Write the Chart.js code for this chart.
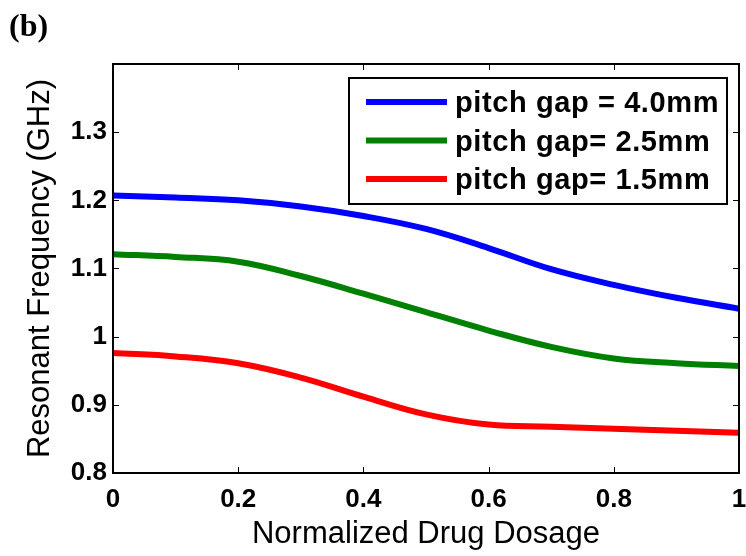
<!DOCTYPE html>
<html>
<head>
<meta charset="utf-8">
<script src="https://cdn.jsdelivr.net/npm/chart.js@4.4.1/dist/chart.umd.min.js"></script>
<style>
  html, body { margin: 0; padding: 0; background: #fff; }
  #wrap { width: 746px; height: 556px; }
</style>
</head>
<body>
<div id="wrap"><canvas id="c" width="746" height="556"></canvas></div>
<script>
// ---- data ----
const dosage = [0, 0.1, 0.2, 0.3, 0.4, 0.5, 0.6, 0.7, 0.8, 0.9, 1.0];
const gap40 = [1.207, 1.204, 1.200, 1.191, 1.177, 1.158, 1.130, 1.099, 1.076, 1.057, 1.041];
const gap25 = [1.121, 1.117, 1.110, 1.089, 1.063, 1.036, 1.009, 0.985, 0.968, 0.961, 0.957];
const gap15 = [0.976, 0.971, 0.961, 0.940, 0.912, 0.886, 0.871, 0.868, 0.865, 0.862, 0.859];
const seriesLabels = ['pitch gap = 4.0mm', 'pitch gap= 2.5mm', 'pitch gap= 1.5mm'];
const seriesColors = ['#0000ff', '#008000', '#ff0000'];
const xTicks = [0, 0.2, 0.4, 0.6, 0.8, 1];
const yTicks = [0.8, 0.9, 1.0, 1.1, 1.2, 1.3];
const panelLabel = '(b)';
const xTitle = 'Normalized Drug Dosage';
const yTitle = 'Resonant Frequency (GHz)';

const SANS = "'Liberation Sans', Arial, sans-serif";

function pts(ys) { return dosage.map((d, i) => ({ x: d, y: ys[i] })); }

const datasets = [gap40, gap25, gap15].map((ys, i) => ({
  label: seriesLabels[i],
  data: pts(ys),
  borderColor: seriesColors[i],
  backgroundColor: seriesColors[i],
  borderWidth: 6,
  pointRadius: 0,
  tension: 0.4,
  fill: false
}));

const framePlugin = {
  id: 'framePlugin',
  afterDraw(chart) {
    const { ctx, chartArea: a, scales } = chart;
    const x = scales.x, y = scales.y;
    ctx.save();
    // inner tick marks on all four sides
    ctx.strokeStyle = '#000';
    ctx.lineWidth = 1;
    ctx.beginPath();
    xTicks.forEach(v => {
      const px = Math.round(x.getPixelForValue(v)) + 0.5;
      ctx.moveTo(px, a.bottom); ctx.lineTo(px, a.bottom - 6);
      ctx.moveTo(px, a.top); ctx.lineTo(px, a.top + 6);
    });
    yTicks.forEach(v => {
      const py = Math.round(y.getPixelForValue(v)) + 0.5;
      ctx.moveTo(a.left, py); ctx.lineTo(a.left + 6, py);
      ctx.moveTo(a.right, py); ctx.lineTo(a.right - 6, py);
    });
    ctx.stroke();
    // axes box
    ctx.lineWidth = 2;
    ctx.strokeRect(a.left, a.top, a.right - a.left, a.bottom - a.top);

    // legend box inside the plot (top-right)
    const bw = 378, bh = 126;
    const bx = a.right - 12 - bw, by = a.top + 14;
    ctx.fillStyle = '#fff';
    ctx.fillRect(bx, by, bw, bh);
    ctx.lineWidth = 2;
    ctx.strokeStyle = '#000';
    ctx.strokeRect(bx, by, bw, bh);
    ctx.font = 'bold 29px ' + SANS;
    try { ctx.letterSpacing = '0.6px'; } catch (e) {}
    ctx.textBaseline = 'middle';
    ctx.textAlign = 'left';
    chart.data.datasets.forEach((ds, i) => {
      const ry = by + 24 + i * 38.5;
      ctx.strokeStyle = ds.borderColor;
      ctx.lineWidth = 6;
      ctx.beginPath();
      ctx.moveTo(bx + 17, ry);
      ctx.lineTo(bx + 98, ry);
      ctx.stroke();
      ctx.fillStyle = '#000';
      ctx.fillText(ds.label, bx + 106, ry + 2);
    });
    try { ctx.letterSpacing = '0px'; } catch (e) {}
    // panel label
    ctx.font = "bold 32px 'Liberation Serif', 'Times New Roman', serif";
    ctx.fillStyle = '#000';
    ctx.textBaseline = 'alphabetic';
    ctx.fillText(panelLabel, 9, 36);
    ctx.restore();
  }
};

function fmt(v) { return String(Number(v.toFixed(1))); }

new Chart(document.getElementById('c'), {
  type: 'line',
  data: { datasets },
  options: {
    responsive: false,
    animation: false,
    devicePixelRatio: 1,
    layout: { padding: { top: 64, right: 7, bottom: 0, left: 0 } },
    plugins: { legend: { display: false }, tooltip: { enabled: false } },
    scales: {
      x: {
        type: 'linear',
        min: 0, max: 1,
        afterBuildTicks(s) { s.ticks = xTicks.map(v => ({ value: v })); },
        afterFit(s) { s.height = 83; s.paddingLeft = 0; s.paddingRight = 0; },
        grid: { display: false, drawTicks: false },
        border: { display: false },
        ticks: {
          padding: 11,
          color: '#000',
          font: { family: SANS, size: 26, weight: 'bold' },
          maxRotation: 0,
          callback: v => fmt(v)
        },
        title: {
          display: true,
          text: xTitle,
          color: '#000',
          font: { family: SANS, size: 31 },
          padding: { top: 0, bottom: 3 }
        }
      },
      y: {
        type: 'linear',
        min: 0.8, max: 1.4,
        afterBuildTicks(s) { s.ticks = yTicks.map(v => ({ value: v })); },
        afterFit(s) { s.width = 113; s.paddingTop = 0; s.paddingBottom = 0; },
        grid: { display: false, drawTicks: false },
        border: { display: false },
        ticks: {
          padding: 6,
          color: '#000',
          font: { family: SANS, size: 26, weight: 'bold' },
          callback: v => fmt(v)
        },
        title: {
          display: true,
          text: yTitle,
          color: '#000',
          font: { family: SANS, size: 31 },
          padding: { top: 22, bottom: 0 }
        }
      }
    }
  },
  plugins: [framePlugin]
});
</script>
</body>
</html>
